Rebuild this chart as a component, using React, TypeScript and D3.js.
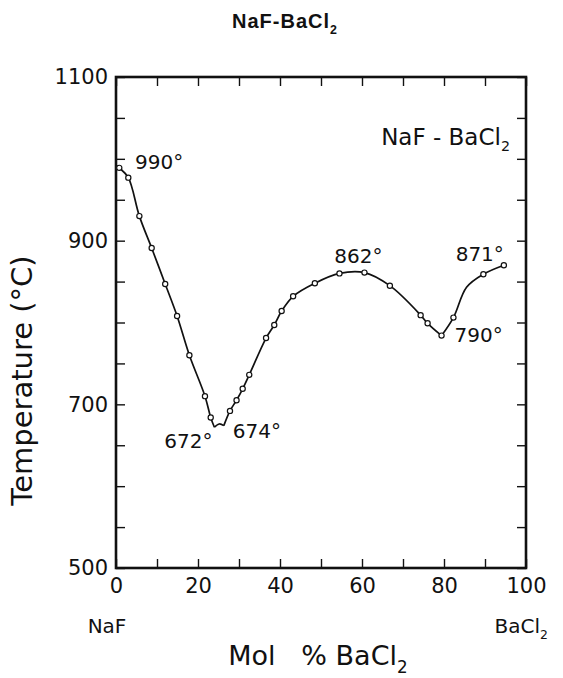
import { useEffect, useRef } from 'react'
import * as d3 from 'd3'

const W = 563
const H = 678
const MARGIN = { top: 77, right: 37, bottom: 110, left: 116 }
const FONT = 'DejaVu Sans, sans-serif'

// Liquidus branches [mol % BaCl2, °C]. Eutectic / peak nodes without a circle are
// included so the line meets them; circles are the measured points below.
const naFBranch: [number, number][] = [
  [0, 992], [0.8, 989], [3, 977], [5.7, 930], [8.7, 891], [12, 847], [14.9, 808],
  [17.9, 760], [21.7, 710], [23.1, 684], [24, 672],
]
const eutecticNotch: [number, number][] = [[24, 672], [25.2, 676], [26.3, 674]]
const middleBranch: [number, number][] = [
  [26.3, 674], [27.8, 692], [29.4, 705], [30.9, 719], [32.5, 736], [36.6, 781],
  [38.6, 797], [40.4, 814], [43.2, 832], [48.5, 848], [54.5, 860], [60.6, 861],
  [66.8, 845], [74.3, 809], [76, 799], [79.4, 784],
]
const baCl2Branch: [number, number][] = [
  [79.4, 784], [82.3, 806], [85.5, 843], [89.6, 859], [94.6, 870],
]

const measured: [number, number][] = [
  [0.8, 989], [3, 977], [5.7, 930], [8.7, 891], [12, 847], [14.9, 808], [17.9, 760],
  [21.7, 710], [23.1, 684], [27.8, 692], [29.4, 705], [30.9, 719], [32.5, 736],
  [36.6, 781], [38.6, 797], [40.4, 814], [43.2, 832], [48.5, 848], [54.5, 860],
  [60.6, 861], [66.8, 845], [74.3, 809], [76, 799], [79.4, 784], [82.3, 806],
  [89.6, 859], [94.6, 870],
]

// point annotations: label, anchor point, pixel nudge
const notes: { label: string; x: number; t: number; dx: number; dy: number; anchor: string }[] = [
  { label: '990°', x: 0, t: 990, dx: 19, dy: 2, anchor: 'start' },
  { label: '672°', x: 24, t: 672, dx: -2, dy: 21, anchor: 'end' },
  { label: '674°', x: 26.3, t: 674, dx: 9, dy: 12, anchor: 'start' },
  { label: '862°', x: 60.6, t: 861, dx: -6, dy: -10, anchor: 'middle' },
  { label: '871°', x: 94.6, t: 870, dx: 0, dy: -4, anchor: 'end' },
  { label: '790°', x: 79.4, t: 784, dx: 13, dy: 6, anchor: 'start' },
]

const xTicks = [0, 10, 20, 30, 40, 50, 60, 70, 80, 90, 100]
const xLabels = [0, 20, 40, 60, 80, 100]
const yTicks = [500, 550, 600, 650, 700, 750, 800, 850, 900, 950, 1000, 1050, 1100]
const yLabels = [500, 700, 900, 1100]

function subText(
  sel: d3.Selection<SVGTextElement, unknown, null, undefined>,
  main: string,
  sub: string,
  size: number
) {
  sel.append('tspan').text(main)
  sel.append('tspan').attr('font-size', size * 0.62).attr('dy', size * 0.28).text(sub)
}

export default function App() {
  const svgRef = useRef<SVGSVGElement>(null)

  useEffect(() => {
    if (!svgRef.current) return
    const innerW = W - MARGIN.left - MARGIN.right
    const innerH = H - MARGIN.top - MARGIN.bottom

    const x = d3.scaleLinear().domain([0, 100]).range([0, innerW])
    const y = d3.scaleLinear().domain([500, 1100]).range([innerH, 0])

    const svg = d3.select(svgRef.current)
    svg.selectAll('*').remove()

    const g = svg.append('g').attr('transform', `translate(${MARGIN.left},${MARGIN.top})`)

    // inward ticks on all four sides
    const styleAxis = (a: d3.Selection<SVGGElement, unknown, null, undefined>) => {
      a.select('.domain').remove()
      a.selectAll('.tick line').attr('stroke', '#111').attr('stroke-width', 1.4)
      a.selectAll('.tick text')
        .attr('fill', '#111')
        .attr('font-size', 21)
        .attr('font-family', FONT)
    }
    g.append('g')
      .attr('transform', `translate(0,${innerH})`)
      .call(
        d3.axisBottom(x).tickValues(xTicks).tickSize(-9).tickPadding(10)
          .tickFormat((d) => (xLabels.includes(+d) ? String(d) : ''))
      )
      .call(styleAxis)
    g.append('g')
      .call(d3.axisTop(x).tickValues(xTicks).tickSize(-9).tickFormat(() => ''))
      .call(styleAxis)
    g.append('g')
      .call(
        d3.axisLeft(y).tickValues(yTicks).tickSize(-9).tickPadding(8)
          .tickFormat((d) => (yLabels.includes(+d) ? String(d) : ''))
      )
      .call(styleAxis)
    g.append('g')
      .attr('transform', `translate(${innerW},0)`)
      .call(d3.axisRight(y).tickValues(yTicks).tickSize(-9).tickFormat(() => ''))
      .call(styleAxis)

    g.append('rect')
      .attr('width', innerW)
      .attr('height', innerH)
      .attr('fill', 'none')
      .attr('stroke', '#111')
      .attr('stroke-width', 2.6)

    const line = d3
      .line<[number, number]>()
      .x((d) => x(d[0]))
      .y((d) => y(d[1]))
      .curve(d3.curveCatmullRom.alpha(0.5))

    for (const branch of [naFBranch, eutecticNotch, middleBranch, baCl2Branch]) {
      g.append('path')
        .datum(branch)
        .attr('d', line)
        .attr('fill', 'none')
        .attr('stroke', '#111')
        .attr('stroke-width', 1.7)
    }

    g.selectAll('circle.pt')
      .data(measured)
      .join('circle')
      .attr('class', 'pt')
      .attr('cx', (d) => x(d[0]))
      .attr('cy', (d) => y(d[1]))
      .attr('r', 2.6)
      .attr('fill', '#fff')
      .attr('stroke', '#111')
      .attr('stroke-width', 1.2)

    g.selectAll('text.note')
      .data(notes)
      .join('text')
      .attr('class', 'note')
      .attr('x', (d) => x(d.x) + d.dx)
      .attr('y', (d) => y(d.t) + d.dy)
      .attr('text-anchor', (d) => d.anchor)
      .attr('font-size', 20)
      .attr('font-family', FONT)
      .attr('fill', '#111')
      .text((d) => d.label)

    // inset system label
    subText(
      g.append('text')
        .attr('x', innerW - 16)
        .attr('y', 68)
        .attr('text-anchor', 'end')
        .attr('font-size', 23)
        .attr('font-family', FONT)
        .attr('fill', '#111'),
      'NaF - BaCl', '2', 23
    )

    // end-member labels
    g.append('text')
      .attr('x', x(0) - 9)
      .attr('y', innerH + 65)
      .attr('text-anchor', 'middle')
      .attr('font-size', 20)
      .attr('font-family', FONT)
      .attr('fill', '#111')
      .text('NaF')
    subText(
      g.append('text')
        .attr('x', x(100) + 22)
        .attr('y', innerH + 65)
        .attr('text-anchor', 'end')
        .attr('font-size', 20)
        .attr('font-family', FONT)
        .attr('fill', '#111'),
      'BaCl', '2', 20
    )

    // axis titles
    subText(
      g.append('text')
        .attr('x', innerW / 2 - 3)
        .attr('y', innerH + 97)
        .attr('text-anchor', 'middle')
        .attr('font-size', 27)
        .attr('font-family', FONT)
        .attr('fill', '#111')
        .attr('xml:space', 'preserve'),
      'Mol   % BaCl', '2', 27
    )
    g.append('text')
      .attr('transform', `translate(${-84},${innerH / 2 + 58}) rotate(-90)`)
      .attr('text-anchor', 'middle')
      .attr('font-size', 29)
      .attr('font-family', FONT)
      .attr('fill', '#111')
      .text('Temperature (°C)')

    // figure title
    subText(
      svg.append('text')
        .attr('x', 285)
        .attr('y', 28)
        .attr('text-anchor', 'middle')
        .attr('font-size', 20)
        .attr('font-weight', 'bold')
        .attr('letter-spacing', 1)
        .attr('font-family', 'Liberation Sans, Arial, sans-serif')
        .attr('fill', '#111'),
      'NaF-BaCl', '2', 20
    )
  }, [])

  return (
    <div style={{ position: 'absolute', left: 0, top: 0, background: '#fff' }}>
      <svg ref={svgRef} width={W} height={H} style={{ display: 'block' }} />
    </div>
  )
}
